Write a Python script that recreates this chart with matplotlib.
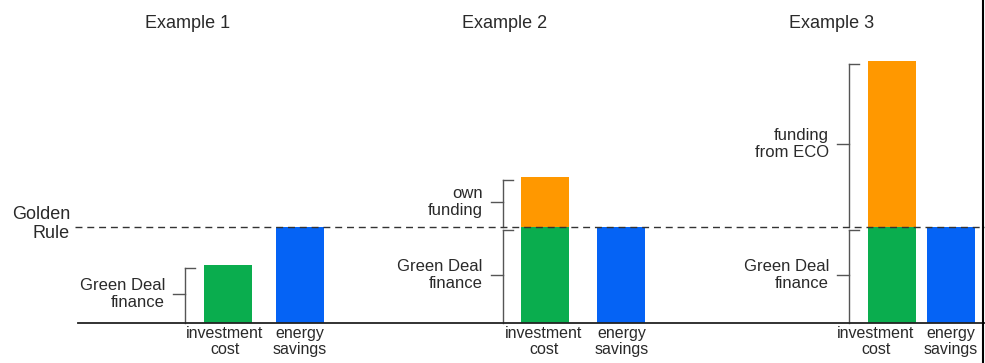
import matplotlib

matplotlib.use('Agg')
import matplotlib.pyplot as plt

plt.rcParams['font.family'] = ['Liberation Sans', 'DejaVu Sans']

# values in units of the Golden Rule limit (energy savings = 1)
examples = ['Example 1', 'Example 2', 'Example 3']
green_deal = [0.60, 1.0, 1.0]
top_up = [0.0, 0.52, 1.73]
energy_savings = [1.0, 1.0, 1.0]
top_up_labels = ['', 'own\nfunding', 'funding\nfrom ECO']
gd_label = 'Green Deal\nfinance'
cat_labels = ['investment\ncost', 'energy\nsavings']

GREEN, ORANGE, BLUE = '#0aad4e', '#ff9800', '#0563f5'
TXT = '#2a2a2a'

# layout (figure in pixel-like x units, y in golden-rule units)
W, H = 985, 363
BASE_PX, UNIT_PX = 323, 96
cost_x = [227.5, 545, 891.5]
save_x = [300, 620.5, 950.5]
# label centres under the bars (squeezed in the narrow third group)
cost_lab_x = [225, 544, 876]
save_lab_x = [300, 622, 951]
title_x = [188, 505, 832]
BAR_W = 48

fig = plt.figure(figsize=(W / 100, H / 100), dpi=100)
ax = fig.add_axes([0, 0, 1, 1])
ax.set_xlim(0, W)
ax.set_ylim(-(H - BASE_PX) / UNIT_PX, BASE_PX / UNIT_PX)
ax.axis('off')
ymax = BASE_PX / UNIT_PX


def bracket(x, y0, y1, label):
    hook = 10
    ax.plot([x, x], [y0, y1 - 0.03], color='#555555', lw=1)
    ax.plot([x, x + hook], [y1 - 0.03, y1 - 0.03], color='#555555', lw=1)
    ym = (y0 + y1) / 2
    ax.plot([x - 12, x], [ym, ym], color='#555555', lw=1)
    ax.text(x - 20, ym, label, ha='right', va='center', fontsize=12,
            color=TXT, linespacing=1.12)


for i, name in enumerate(examples):
    cx, sx = cost_x[i], save_x[i]
    ax.bar(cx, green_deal[i], width=BAR_W, color=GREEN)
    if top_up[i] > 0:
        ax.bar(cx, top_up[i], bottom=green_deal[i], width=BAR_W, color=ORANGE)
    ax.bar(sx, energy_savings[i], width=BAR_W, color=BLUE)
    bx = cx - BAR_W / 2 - 18.5
    bracket(bx, 0, green_deal[i], gd_label)
    if top_up[i] > 0:
        bracket(bx, green_deal[i], green_deal[i] + top_up[i], top_up_labels[i])
    for x, lab in zip([cost_lab_x[i], save_lab_x[i]], cat_labels):
        ax.text(x, -3 / UNIT_PX, lab, ha='center', va='top', fontsize=11.5,
                color=TXT, linespacing=1.12)
    ax.text(title_x[i], ymax - 23 / UNIT_PX, name, ha='center', va='center',
            fontsize=13, color=TXT)

# Golden Rule line and baseline
ax.plot([75, W], [1.0, 1.0], color='#333333', lw=1, ls=(0, (5, 3.5)))
ax.plot([78, W], [0, 0], color='#222222', lw=1.3)
ax.text(70, 1.0 + 3 / UNIT_PX, 'Golden\nRule', ha='right', va='center',
        fontsize=13, color=TXT, linespacing=1.15)
ax.plot([983, 983], [-(H - BASE_PX) / UNIT_PX, ymax], color='black', lw=1.5)

fig.savefig('out.png', dpi=100)
